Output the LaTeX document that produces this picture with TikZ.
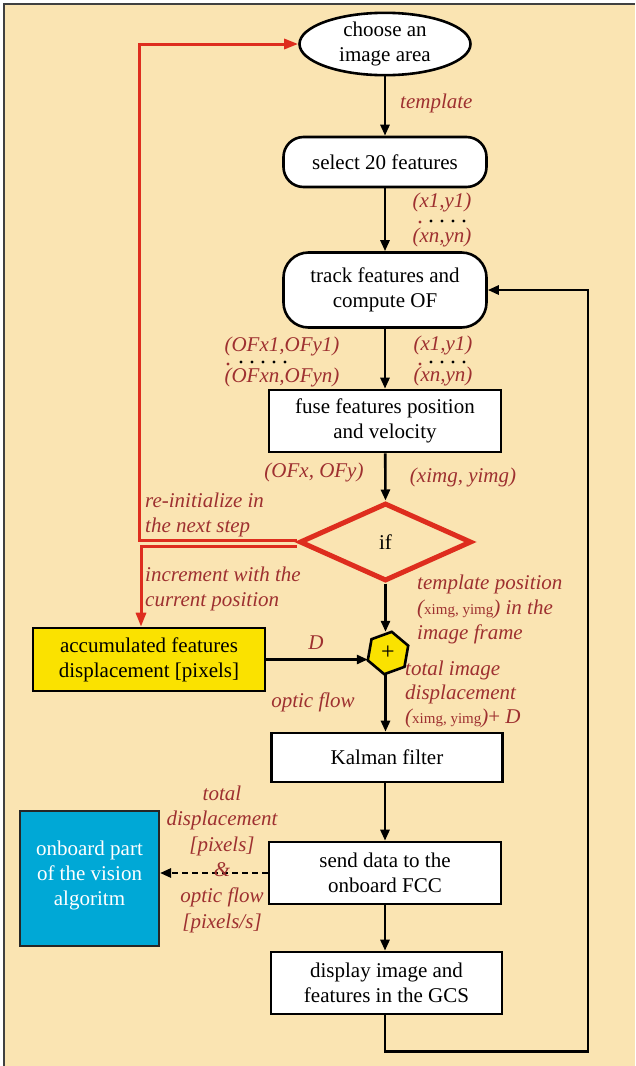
\documentclass[tikz,border=0pt]{standalone}
\usepackage{fontspec}
\setmainfont{Liberation Serif}
\usetikzlibrary{shapes.geometric,arrows.meta,calc}
\definecolor{bg}{RGB}{250,228,178}
\definecolor{lab}{RGB}{158,48,48}
\definecolor{redl}{RGB}{222,45,30}
\definecolor{yel}{RGB}{250,226,0}
\definecolor{blu}{RGB}{0,168,214}
\newcommand\smup[1]{{\upshape\fontsize{15}{15}\selectfont #1}}
\begin{document}
\begin{tikzpicture}[x=1pt,y=-1pt,
  every node/.style={font=\fontsize{21}{25}\selectfont},
  box/.style={draw=black,line width=2.6pt,fill=white,align=center,inner sep=0pt},
  rbox/.style={box,rounded corners=20pt},
  lbl/.style={text=lab,font=\fontsize{21}{25}\selectfont\itshape,align=left,inner sep=0pt},
  conn/.style={line width=2.6pt,-{Triangle[length=11pt,width=9pt]}},
  redc/.style={draw=redl,line width=3pt,-{Triangle[length=14pt,width=10pt]}},
  dotrow/.style={fill=black}
]
\useasboundingbox (0,0) rectangle (635,1066);
\fill[white] (0,0) rectangle (635,1066);
\fill[bg] (4,4) rectangle (635,1066);
\draw[line width=1.3pt,black!75] (4,1066) -- (4,4) -- (635,4);

% nodes
\node[ellipse,draw,line width=2.6pt,fill=white,minimum width=171pt,minimum height=58pt,inner sep=0pt,align=center] (E) at (385,44) {choose an\\image area};
\node[rbox,minimum width=203pt,minimum height=50pt] (S) at (385,162) {select 20 features};
\node[rbox,rounded corners=25pt,minimum width=203pt,minimum height=75pt] (T) at (385,290) {track features and\\compute OF};
\node[box,minimum width=232pt,minimum height=62pt] (F) at (385,421) {fuse features position\\and velocity};
\node[diamond,draw=redl,line width=5pt,fill=bg,minimum width=172pt,minimum height=78pt,inner sep=0pt] (IF) at (385.5,542) {if};
\node[box,fill=yel,minimum width=232pt,minimum height=63pt] (Y) at (149,659.5) {accumulated features\\displacement [pixels]};
\node[regular polygon,regular polygon sides=6,shape border rotate=20,draw,fill=yel,line width=2.6pt,minimum size=43pt,inner sep=0pt] (H) at (388,653) {\fontsize{24}{24}\selectfont +};
\node[box,minimum width=231pt,minimum height=49pt] (K) at (387,757.5) {Kalman filter};
\node[box,minimum width=232pt,minimum height=62pt] (SD) at (385,873) {send data to the\\onboard FCC};
\node[draw=black!85,line width=2pt,fill=blu,text=white,minimum width=139pt,minimum height=135pt,align=center,inner sep=0pt] (B) at (89.5,878.5) {onboard part\\of the vision\\algoritm\\[-14pt]};
\node[box,minimum width=231pt,minimum height=62pt] (DP) at (386.5,983) {display image and\\features in the GCS};

% connectors
\draw[conn] (E) -- (S);
\draw[conn] (S) -- (T);
\draw[conn] (T) -- (F);
\draw[conn] (F) -- (IF.north);
\draw[conn] (IF.south) -- (H.north -| IF.south);
\draw[conn] (Y.east) -- (H.west |- Y.east);
\draw[conn] (H.south -| IF.south) -- (K.north -| IF.south);
\draw[conn] (K.south -| SD.south) -- (SD.north);
\draw[conn] (SD) -- (DP.north -| SD.south);
\draw[conn] (DP.south -| SD.south) -- ++(0,36) -| ($(T.east)+(100,0)$) -- (T.east);
\draw[conn,dashed,dash pattern=on 6pt off 4pt] (SD.west) -- (SD.west -| B.east);
\draw[redc] ($(IF.west)+(0,-2)$) -| (139,44) -- (E.west);
\draw[redc] ($(IF.west)+(0,4)$) -| ([xshift=-8pt]Y.north);

% labels
\node[lbl,anchor=west] (l1) at (400,103) {template};
\node[lbl] (l2a) at (442,202) {(x1,y1)};
\node[lbl] (l2b) at (442,237) {(xn,yn)};
\foreach \i in {1,...,4} \fill[dotrow] (420+\i*11,221) circle (1.6pt);
\fill[lab] (420,222) circle (1.7pt);
\node[lbl] (l3a) at (282,346) {(OFx1,OFy1)};
\node[lbl] (l3b) at (282,377) {(OFxn,OFyn)};
\foreach \i in {1,...,5} \fill[dotrow] (230+\i*11,362) circle (1.6pt);
\fill[lab] (228,364) circle (1.7pt);
\node[lbl] (l4a) at (443,345) {(x1,y1)};
\node[lbl] (l4b) at (443,376) {(xn,yn)};
\foreach \i in {1,...,4} \fill[dotrow] (420+\i*11,362) circle (1.6pt);
\fill[lab] (420,364) circle (1.7pt);
\node[lbl] (l5) at (314,472) {(OFx, OFy)};
\node[lbl] (l6) at (463,477) {(ximg, yimg)};
\node[lbl,anchor=west] (l7) at (145,515) {re-initialize in\\the next step};
\node[lbl,anchor=west] (l8) at (145,589) {increment with the\\current position};
\node[lbl,anchor=west] (l9) at (417,609) {template position\\(\smup{ximg, yimg}) in the\\image frame};
\node[lbl] (l10) at (316,643) {D};
\node[lbl,anchor=west,font=\fontsize{21}{24}\selectfont\itshape] (l11) at (405,694) {total image\\displacement\\(\smup{ximg, yimg})\upshape{}+ \itshape D};
\node[lbl] (l12) at (313,702) {optic flow};
\node[lbl,align=center,font=\fontsize{21}{25.6}\selectfont\itshape] (l13) at (222,859) {total\\displacement\\{[pixels]}\\\&\\optic flow\\{[pixels/s]}};
\end{tikzpicture}
\end{document}
